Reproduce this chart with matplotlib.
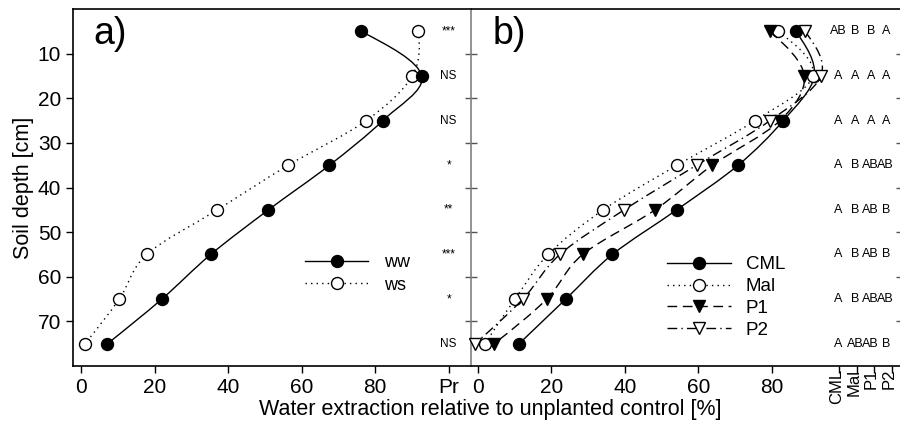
import numpy as np
import matplotlib
matplotlib.use('Agg')
import matplotlib.pyplot as plt
from matplotlib.path import Path
from matplotlib.patches import PathPatch
from matplotlib.lines import Line2D

plt.rcParams['font.family'] = ['Liberation Sans', 'DejaVu Sans']

# data
depth = [5, 15, 25, 35, 45, 55, 65, 75]
ww = [76.2, 92.7, 82.1, 67.6, 51.0, 35.3, 22.0, 7.2]
ws = [91.8, 90.1, 77.6, 56.4, 37.1, 17.9, 10.4, 1.1]
pr_sig = ['***', 'NS', 'NS', '*', '**', '***', '*', 'NS']

cml = [86.5, 91.5, 83.1, 70.8, 54.1, 36.6, 23.9, 11.2]
mal = [81.7, 91.1, 75.4, 54.2, 34.1, 19.1, 10.1, 1.9]
p1 = [79.5, 88.8, 82.2, 63.8, 48.2, 28.5, 18.7, 4.4]
p2 = [89.0, 93.3, 79.5, 59.5, 39.8, 22.3, 12.2, -0.8]

genotypes = ['CML', 'Mal', 'P1', 'P2']
letters = {
    'CML': ['AB', 'A', 'A', 'A', 'A', 'A', 'A', 'A'],
    'Mal': ['B', 'A', 'A', 'B', 'B', 'B', 'B', 'AB'],
    'P1': ['B', 'A', 'A', 'AB', 'AB', 'AB', 'AB', 'AB'],
    'P2': ['A', 'A', 'A', 'AB', 'B', 'B', 'AB', 'B'],
}
xticks = [0, 20, 40, 60, 80]


def smooth_path(x, y):
    # cubic bezier through the points (drawn by matplotlib's path renderer)
    pts = np.column_stack([x, y]).astype(float)
    n = len(pts)
    m = np.zeros_like(pts)
    for i in range(1, n - 1):
        m[i] = (pts[i + 1] - pts[i - 1]) / 2
    m[0] = 1.5 * (pts[1] - pts[0]) - 0.5 * m[1]
    m[-1] = 1.5 * (pts[-1] - pts[-2]) - 0.5 * m[-2]
    verts = [pts[0]]
    codes = [Path.MOVETO]
    for i in range(n - 1):
        verts += [pts[i] + m[i] / 3, pts[i + 1] - m[i + 1] / 3, pts[i + 1]]
        codes += [Path.CURVE4] * 3
    return Path(verts, codes)


def series(ax, x, style, marker, fill, z):
    ax.add_patch(PathPatch(smooth_path(x, depth), fill=False, lw=1.0,
                           ls=style, ec='black', zorder=z))
    ax.plot(x, depth, ls='none', marker=marker, ms=8.6, mfc=fill,
            mec='black', mew=1.0, zorder=z + 0.5, clip_on=False)
    return Line2D([], [], color='black', lw=1.0, ls=style, marker=marker,
                  ms=8.6, mfc=fill, mec='black', mew=1.0)


fig = plt.figure(figsize=(9, 4.25), dpi=100)
W, H = 900, 425
top, bot = 9, 366
ax1 = fig.add_axes([73 / W, 1 - bot / H, (471 - 73) / W, (bot - top) / H])
ax2 = fig.add_axes([471 / W, 1 - bot / H, (902 - 471) / W, (bot - top) / H])

# panel a
dotted = (0, (1, 3))
h_ws = series(ax1, ws, dotted, 'o', 'white', 3)
h_ww = series(ax1, ww, 'solid', 'o', 'black', 4)
ax1.set_xlim(-2.18, 106.1)
ax1.set_ylim(80, 0)
ax1.set_xticks(xticks + [100])
ax1.set_xticklabels([str(v) for v in xticks] + ['Pr'])
ax1.set_yticks([10, 20, 30, 40, 50, 60, 70])
ax1.tick_params(axis='both', labelsize=15, length=5, width=1, direction='out')
ax1.spines['right'].set_visible(False)
for s in ['left', 'bottom', 'top']:
    ax1.spines[s].set_linewidth(1.2)
ax1.set_ylabel('Soil depth [cm]', fontsize=15.5, labelpad=3)
for d, s in zip(depth, pr_sig):
    ax1.text(100, d, s, fontsize=8.5, ha='center', va='center')
ax1.text(0.05, 0.93, 'a)', transform=ax1.transAxes, fontsize=27,
         ha='left', va='center')
ax1.legend([h_ww, h_ws], ['ww', 'ws'], loc='center left',
           bbox_to_anchor=(305 / W, 1 - 274 / H), bbox_transform=fig.transFigure,
           frameon=False, fontsize=13, handlelength=3.5, handletextpad=0.85,
           labelspacing=0.3, borderpad=0, borderaxespad=0, numpoints=1)

# panel b
h_cml = series(ax2, cml, 'solid', 'o', 'black', 3)
h_mal = series(ax2, mal, dotted, 'o', 'white', 4)
h_p1 = series(ax2, p1, (0, (7, 4)), 'v', 'black', 5)
h_p2 = series(ax2, p2, (0, (7, 3, 1, 3)), 'v', 'white', 6)
ax2.set_xlim(-1.9, 115.4)
ax2.set_ylim(80, 0)
gx = [98.2, 103.1, 107.8, 112.7]
ax2.set_xticks(xticks + gx)
ax2.set_xticklabels([str(v) for v in xticks] + [''] * len(gx))
for g, x in zip(genotypes, gx):
    ax2.annotate(g, xy=(x, 0), xycoords=ax2.get_xaxis_transform(),
                 xytext=(-1.8, -2.0), textcoords='offset points', rotation=90,
                 ha='center', va='top', fontsize=12, annotation_clip=False)
ax2.tick_params(axis='x', labelsize=15, length=5, width=1, direction='out')
ax2.set_yticks([10, 20, 30, 40, 50, 60, 70])
ax2.tick_params(axis='y', left=True, right=True, labelleft=False,
                direction='inout', length=9, width=1, color='#555555')
ax2.spines['left'].set_color('#808080')
ax2.spines['left'].set_linewidth(1.2)
for s in ['bottom', 'top']:
    ax2.spines[s].set_linewidth(1.2)
lx = [98.0, 102.6, 106.9, 111.0]
for g, x in zip(genotypes, lx):
    for d, s in zip(depth, letters[g]):
        ax2.text(x, d, s, fontsize=9, ha='center', va='center')
ax2.text(0.05, 0.93, 'b)', transform=ax2.transAxes, fontsize=27,
         ha='left', va='center')
ax2.legend([h_cml, h_mal, h_p1, h_p2], genotypes, loc='center left',
           bbox_to_anchor=(667 / W, 1 - 297.5 / H), bbox_transform=fig.transFigure,
           frameon=False, fontsize=13.5, handlelength=3.4, handletextpad=0.8,
           labelspacing=0.25, borderpad=0, borderaxespad=0, numpoints=1)

fig.text(490 / W, 1 - 410 / H, 'Water extraction relative to unplanted control [%]',
         fontsize=15.5, ha='center', va='center')

fig.savefig('out.png', dpi=100)
